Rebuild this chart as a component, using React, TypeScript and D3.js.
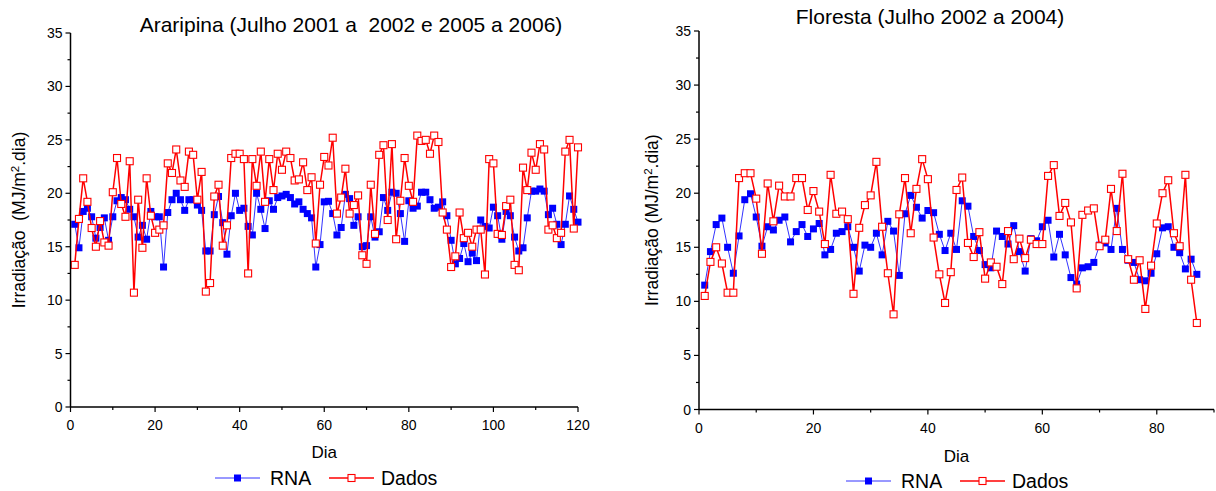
import * as d3 from "d3";

// Araripina: dias 1..120
const araripinaRNA = [
  17.1, 14.9, 18.3, 18.6, 17.8, 15.8, 16.8, 17.7, 15.6, 17.8,
  19.3, 19.6, 19.4, 18.5, 17.8, 15.9, 17.0, 15.7, 18.3, 17.8,
  17.8, 13.1, 18.2, 19.4, 20.0, 19.4, 18.4, 19.4, 19.4, 18.9,
  18.4, 14.6, 14.6, 18.0, 19.7, 17.25, 14.3, 17.9, 20.0, 18.4,
  18.6, 16.9, 16.1, 20.0, 18.5, 16.7, 19.3, 18.5, 19.6, 19.75,
  19.9, 19.6, 19.0, 19.2, 18.5, 18.1, 17.7, 13.1, 15.2, 19.2,
  19.25, 18.1, 16.1, 16.8, 19.9, 19.5, 17.0, 17.8, 15.0, 15.1,
  17.8, 15.9, 16.4, 19.6, 18.4, 20.1, 20.0, 18.1, 15.5, 19.3,
  18.6, 18.8, 20.1, 20.1, 19.4, 18.6, 18.7, 19.2, 17.9, 15.6,
  13.4, 13.9, 15.3, 13.6, 14.4, 13.7, 17.5, 16.9, 16.75, 18.7,
  17.9, 15.7, 18.3, 17.9, 15.9, 14.6, 14.9, 17.7, 20.2, 20.2,
  20.4, 20.2, 18.0, 18.6, 17.1, 15.2, 17.1, 19.75, 18.5, 17.3,
];
const araripinaDados = [
  13.3, 17.6, 21.4, 19.2, 16.75, 15.0, 17.4, 15.4, 15.1, 20.1,
  23.3, 19.0, 17.8, 23.0, 10.7, 19.4, 14.9, 21.4, 17.9, 16.3,
  16.6, 17.0, 22.8, 21.9, 24.1, 21.2, 20.6, 23.9, 23.6, 19.4,
  22.0, 10.8, 11.6, 19.7, 20.8, 15.1, 17.0, 23.3, 23.7, 23.7,
  23.2, 12.5, 23.2, 20.7, 23.9, 19.2, 23.2, 20.3, 23.7, 22.2,
  23.9, 23.3, 21.2, 21.3, 22.9, 20.3, 21.5, 15.3, 20.8, 23.4,
  22.6, 25.2, 18.1, 19.6, 22.3, 18.1, 18.9, 19.8, 14.2, 13.4,
  20.8, 16.2, 23.6, 24.5, 17.5, 24.6, 15.7, 19.3, 23.3, 20.7,
  19.2, 25.4, 24.9, 25.0, 23.7, 25.4, 24.8, 18.2, 16.6, 13.1,
  14.1, 18.2, 15.8, 16.3, 15.0, 16.6, 16.6, 12.4, 23.2, 22.8,
  16.2, 16.1, 18.8, 19.4, 13.3, 12.8, 22.4, 20.3, 23.8, 22.2,
  24.6, 24.1, 16.6, 17.0, 15.8, 16.3, 23.9, 25.0, 16.7, 24.3,
];

// Floresta: dias 1..87
const florestaRNA = [
  11.5, 14.6, 17.1, 17.7, 15.0, 12.6, 16.05, 19.4, 19.95, 17.8,
  15.1, 16.9, 16.6, 17.5, 17.8, 15.5, 16.45, 17.1, 16.0, 16.7,
  17.2, 14.3, 14.8, 16.3, 16.45, 16.9, 15.0, 12.8, 15.2, 15.0,
  16.3, 14.3, 17.4, 16.5, 12.4, 18.1, 19.8, 18.7, 17.7, 18.4,
  18.2, 16.2, 14.7, 16.3, 14.8, 19.3, 18.8, 16.0, 14.7, 13.4,
  13.1, 16.5, 16.0, 15.3, 17.0, 14.6, 12.8, 15.8, 15.6, 16.9,
  17.5, 14.1, 16.2, 14.3, 12.2, 11.6, 13.1, 13.2, 13.6, 15.2,
  15.4, 14.8, 18.6, 14.8, 13.8, 13.6, 12.0, 11.9, 12.6, 14.4,
  16.8, 16.9, 15.0, 14.5, 13.0, 13.9, 12.5,
];
const florestaDados = [
  10.5, 13.65, 15.0, 13.5, 10.8, 10.8, 21.4, 21.85, 21.85, 19.5,
  14.4, 20.9, 17.4, 20.7, 19.7, 19.7, 21.4, 21.4, 18.45, 20.2,
  18.3, 15.3, 21.7, 18.1, 18.3, 17.6, 10.7, 16.8, 18.9, 19.8,
  22.9, 16.9, 12.6, 8.8, 18.05, 21.4, 16.3, 20.4, 23.15, 21.3,
  15.9, 12.5, 9.85, 12.7, 20.3, 21.45, 15.4, 14.1, 16.4, 12.1,
  13.6, 13.2, 11.6, 16.5, 13.9, 15.8, 14.0, 15.7, 15.3, 15.3,
  21.6, 22.6, 17.9, 19.1, 17.3, 11.2, 18.0, 18.4, 18.6, 15.1,
  15.7, 20.4, 16.5, 21.8, 13.9, 12.0, 13.8, 9.3, 13.3, 17.2,
  20.0, 21.2, 16.3, 15.1, 21.7, 12.0, 8.0,
];

const yTicks = [0, 5, 10, 15, 20, 25, 30, 35];
const yMinor = [2.5, 7.5, 12.5, 17.5, 22.5, 27.5, 32.5];

const FONT = "'Liberation Sans', Arial, sans-serif";
const BLUE = "#0000ff";
const RED = "#ff0000";

interface PanelProps {
  title: string;
  titleX: number;
  titleY: number;
  yLabel: string;
  rna: number[];
  dados: number[];
  xMax: number;
  xTicks: number[];
  xMinor: number[];
  left: number;
  right: number;
  top: number;
  bottom: number;
  yLabelX: number;
  diaY: number;
  legendY: number;
  legendX: number;
}

function Panel(p: PanelProps) {
  const x = d3.scaleLinear().domain([0, p.xMax]).range([p.left, p.right]);
  const y = d3.scaleLinear().domain([0, 35]).range([p.bottom, p.top]);
  const line = d3
    .line<number>()
    .x((_, i) => x(i + 1))
    .y((d) => y(d));
  const s = 7;
  const midX = (p.left + p.right) / 2;
  const midY = (p.top + p.bottom) / 2;

  return (
    <g fontFamily={FONT}>
      <text x={p.titleX} y={p.titleY} fontSize={21} textAnchor="middle" style={{ whiteSpace: "pre" }}>
        {p.title}
      </text>

      {/* RNA */}
      <path d={line(p.rna) ?? ""} fill="none" stroke="#3333ff" strokeWidth={1} />
      {p.rna.map((d, i) => (
        <rect key={"b" + i} x={x(i + 1) - s / 2} y={y(d) - s / 2} width={s} height={s} fill={BLUE} />
      ))}

      {/* Dados */}
      <path d={line(p.dados) ?? ""} fill="none" stroke={RED} strokeWidth={1.5} />
      {p.dados.map((d, i) => (
        <rect
          key={"r" + i}
          x={x(i + 1) - s / 2}
          y={y(d) - s / 2}
          width={s}
          height={s}
          fill="#fff"
          stroke={RED}
          strokeWidth={1.1}
        />
      ))}

      {/* axes */}
      <line x1={p.left} x2={p.left} y1={p.top} y2={p.bottom} stroke="#000" strokeWidth={1.5} />
      <line x1={p.left} x2={p.right} y1={p.bottom} y2={p.bottom} stroke="#000" strokeWidth={1.5} />
      {yTicks.map((t) => (
        <g key={"yt" + t}>
          <line x1={p.left - 5} x2={p.left} y1={y(t)} y2={y(t)} stroke="#000" strokeWidth={1.2} />
          <text x={p.left - 8} y={y(t) + 5} fontSize={14} textAnchor="end">
            {t}
          </text>
        </g>
      ))}
      {yMinor.map((t) => (
        <line key={"ym" + t} x1={p.left - 3} x2={p.left} y1={y(t)} y2={y(t)} stroke="#000" strokeWidth={1.2} />
      ))}
      {p.xTicks.map((t) => (
        <g key={"xt" + t}>
          <line x1={x(t)} x2={x(t)} y1={p.bottom} y2={p.bottom + 5} stroke="#000" strokeWidth={1.2} />
          <text x={x(t)} y={p.bottom + 23} fontSize={14} textAnchor="middle">
            {t}
          </text>
        </g>
      ))}
      {p.xMinor.map((t) => (
        <line key={"xm" + t} x1={x(t)} x2={x(t)} y1={p.bottom} y2={p.bottom + 3} stroke="#000" strokeWidth={1.2} />
      ))}

      <text x={midX} y={p.diaY} fontSize={17} textAnchor="middle">
        Dia
      </text>
      <text
        transform={`translate(${p.yLabelX},${midY}) rotate(-90)`}
        fontSize={17.5}
        textAnchor="middle"
        style={{ whiteSpace: "pre" }}
      >
        {p.yLabel}
        <tspan dy={-6} fontSize={11.5}>2</tspan>
        <tspan dy={6}>.dia)</tspan>
      </text>

      {/* legend */}
      <g transform={`translate(${p.legendX},${p.legendY})`}>
        <line x1={0} x2={45} y1={0} y2={0} stroke="#3333ff" strokeWidth={1} />
        <rect x={22.5 - s / 2} y={-s / 2} width={s} height={s} fill={BLUE} />
        <text x={55} y={7} fontSize={19.5}>RNA</text>
        <line x1={114} x2={159} y1={0} y2={0} stroke={RED} strokeWidth={1.5} />
        <rect x={136.5 - s / 2} y={-s / 2} width={s} height={s} fill="#fff" stroke={RED} strokeWidth={1.1} />
        <text x={166} y={7} fontSize={19.5}>Dados</text>
      </g>
    </g>
  );
}

export default function App() {
  return (
    <svg
      width={1216}
      height={491}
      style={{ position: "absolute", left: 0, top: 0, background: "#fff" }}
    >
      <Panel
        title="Araripina (Julho 2001 a  2002 e 2005 a 2006)"
        titleX={351}
        titleY={32}
        yLabel="Irradiação  (MJ/m"
        rna={araripinaRNA}
        dados={araripinaDados}
        xMax={120}
        xTicks={[0, 20, 40, 60, 80, 100, 120]}
        xMinor={[10, 30, 50, 70, 90, 110]}
        left={70.5}
        right={578}
        top={33}
        bottom={407}
        yLabelX={25}
        diaY={458}
        legendY={478}
        legendX={215}
      />
      <Panel
        title="Floresta (Julho 2002 a 2004)"
        titleX={930}
        titleY={24}
        yLabel="Irradiação (MJ/m"
        rna={florestaRNA}
        dados={florestaDados}
        xMax={90}
        xTicks={[0, 20, 40, 60, 80]}
        xMinor={[10, 30, 50, 70, 90]}
        left={699}
        right={1214}
        top={31}
        bottom={409.5}
        yLabelX={658}
        diaY={462}
        legendY={481}
        legendX={846}
      />
    </svg>
  );
}
